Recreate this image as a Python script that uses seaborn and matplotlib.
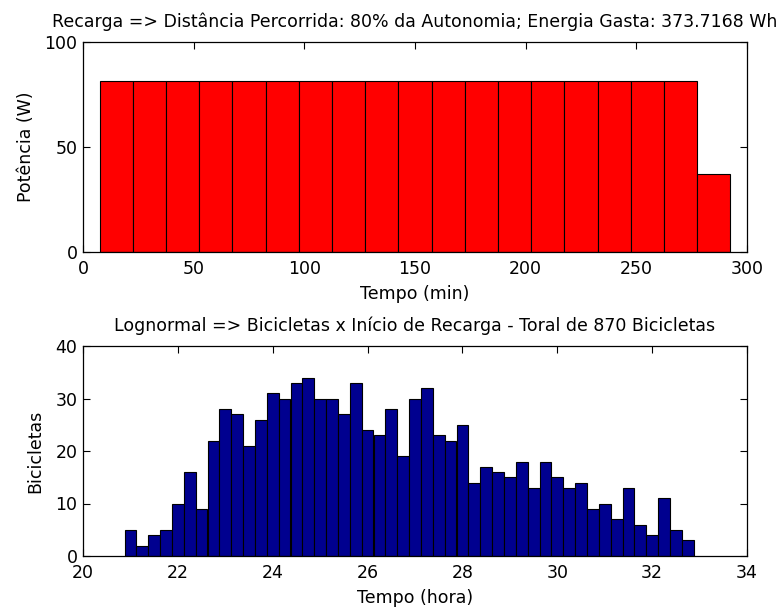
import numpy as np
import pandas as pd
import matplotlib
matplotlib.use("Agg")
import matplotlib.pyplot as plt
import seaborn as sns

# ---- data ----
tempo_min = [15, 30, 45, 60, 75, 90, 105, 120, 135, 150, 165, 180, 195,
             210, 225, 240, 255, 270, 285]
potencia_w = [81.5] * 18 + [37.3]

hora_centros = [21.0, 21.25, 21.5, 21.75, 22.0, 22.25, 22.5, 22.75,
                23.0, 23.25, 23.5, 23.75, 24.0, 24.25, 24.5, 24.75,
                25.0, 25.25, 25.5, 25.75, 26.0, 26.25, 26.5, 26.75,
                27.0, 27.25, 27.5, 27.75, 28.0, 28.25, 28.5, 28.75,
                29.0, 29.25, 29.5, 29.75, 30.0, 30.25, 30.5, 30.75,
                31.0, 31.25, 31.5, 31.75, 32.0, 32.25, 32.5, 32.75]
bicicletas = [5, 2, 4, 5, 10, 16, 9, 22, 28, 27, 21, 26, 31, 30, 33, 34,
              30, 30, 27, 33, 24, 23, 28, 19, 30, 32, 23, 22, 25, 14, 17, 16,
              15, 18, 13, 18, 15, 13, 14, 9, 10, 7, 13, 6, 4, 11, 5, 3]

titulo1 = "Recarga => Distância Percorrida: 80% da Autonomia; Energia Gasta: 373.7168 Wh"
titulo2 = "Lognormal => Bicicletas x Início de Recarga - Toral de 870 Bicicletas"

# ---- style ----
sns.set_style("ticks")
plt.rcParams['font.family'] = ['DejaVu Sans']
plt.rcParams['text.color'] = 'black'
plt.rcParams['axes.labelcolor'] = 'black'

fig = plt.figure(figsize=(7.83, 6.11), dpi=100)
fig.patch.set_facecolor('white')
ax1 = fig.add_axes([83 / 783, 1 - 252 / 611, 664 / 783, 210 / 611])
ax2 = fig.add_axes([83 / 783, 1 - 556 / 611, 664 / 783, 210 / 611])

df1 = pd.DataFrame({"t": tempo_min, "p": potencia_w})
w1 = 15
sns.histplot(data=df1, x="t", weights="p", binwidth=w1,
             binrange=(tempo_min[0] - w1 / 2, tempo_min[-1] + w1 / 2), ax=ax1,
             color=(1, 0, 0), edgecolor="black", linewidth=0.8, alpha=1)

df2 = pd.DataFrame({"h": hora_centros, "n": bicicletas})
w2 = 0.25
sns.histplot(data=df2, x="h", weights="n", binwidth=w2,
             binrange=(hora_centros[0] - w2 / 2, hora_centros[-1] + w2 / 2), ax=ax2,
             color=(0, 0, 0.5625), edgecolor="black", linewidth=0.8, alpha=1)

fs = 12.5
for ax in (ax1, ax2):
    for s in ax.spines.values():
        s.set_visible(True)
        s.set_linewidth(0.9)
        s.set_color("black")
    ax.tick_params(axis='both', which='both', direction='in', top=True,
                   right=True, length=5, width=0.8, labelsize=fs,
                   colors="black", labelcolor="black")
    ax.tick_params(axis='x', pad=6)
    ax.tick_params(axis='y', pad=4)
    ax.set_facecolor("white")

ax1.set_xlim(0, 300)
ax1.set_ylim(0, 100)
ax1.set_xticks([0, 50, 100, 150, 200, 250, 300])
ax1.set_yticks([0, 50, 100])
ax1.set_xlabel("Tempo (min)", fontsize=fs, labelpad=5)
ax1.set_ylabel("Potência (W)", fontsize=fs, labelpad=7)
ax1.set_title(titulo1, fontsize=fs, pad=11)

ax2.set_xlim(20, 34)
ax2.set_ylim(0, 40)
ax2.set_xticks([20, 22, 24, 26, 28, 30, 32, 34])
ax2.set_yticks([0, 10, 20, 30, 40])
ax2.set_xlabel("Tempo (hora)", fontsize=fs, labelpad=5)
ax2.set_ylabel("Bicicletas", fontsize=fs, labelpad=8)
ax2.set_title(titulo2, fontsize=fs, pad=11)

fig.savefig("out.png", dpi=100, facecolor="white")
